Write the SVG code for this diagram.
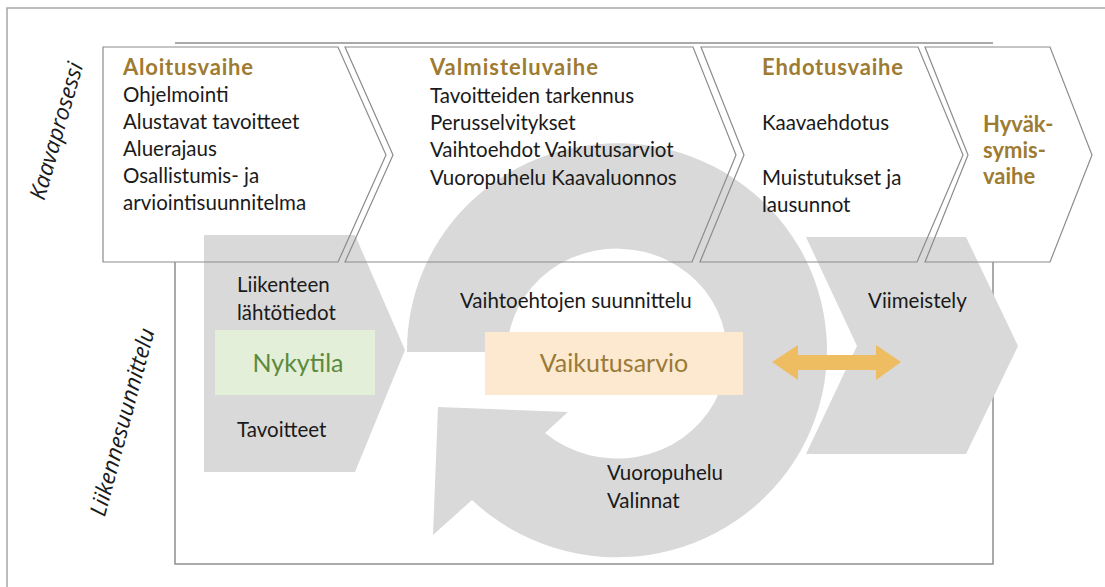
<svg xmlns="http://www.w3.org/2000/svg" width="1105" height="587" viewBox="0 0 1105 587">
<defs>
<style>
.frame{fill:none;stroke:#8f8f8f;stroke-width:1.5}
.outer{fill:none;stroke:#a6a6a6;stroke-width:1.5}
.chev{fill:none;stroke:#8c8c8c;stroke-width:1.2}
.gray{fill:#d9d9d9}
.t{font-family:Lato,"Liberation Sans",sans-serif;font-size:20.5px;fill:#1a1a1a}
.h{font-family:Lato,"Liberation Sans",sans-serif;font-size:22px;font-weight:bold;fill:#9e7b32}
.side{font-family:"Open Sans","Liberation Sans",sans-serif;font-style:italic;font-size:22.5px;fill:#1a1a1a}
.big{font-family:Lato,"Liberation Sans",sans-serif;font-size:25px}
</style>
</defs>
<rect width="1105" height="587" fill="#ffffff"/>
<g id="frames">
<path class="outer" d="M7,587 V8 H1105"/>
<path class="frame" d="M175,262 V564 H993 V262 M175,43 H993"/>
</g>
<g id="gray-process">
<polygon id="nykytila-arrow" class="gray" points="204,235 355,235 405,350 355,472 204,472"/>
<path id="cycle" class="gray" d="M407,352 A210,207 0 1 1 472,500 L433,535 L438,407 L568,412 L545,433 A110,105 0 1 0 507,352 Z"/>
<polygon id="viimeistely-arrow" class="gray" points="806,237 966,237 1018,346 966,454 806,454 857,346"/>
</g>
<g id="phase-aloitus">
<polygon class="chev" points="103,47 338,47 386,155 338,262 103,262"/>
<text class="h" x="123" y="75" textLength="130">Aloitusvaihe</text>
<text class="t" x="123" y="102">Ohjelmointi</text>
<text class="t" x="123" y="129">Alustavat tavoitteet</text>
<text class="t" x="123" y="156">Aluerajaus</text>
<text class="t" x="123" y="183">Osallistumis- ja</text>
<text class="t" x="123" y="210">arviointisuunnitelma</text>
</g>
<g id="phase-valmistelu">
<polygon class="chev" points="345,47 693,47 736,155 692,262 345,262 393,155"/>
<text class="h" x="430" y="75" textLength="168">Valmisteluvaihe</text>
<text class="t" x="430" y="103">Tavoitteiden tarkennus</text>
<text class="t" x="430" y="130">Perusselvitykset</text>
<text class="t" x="430" y="157">Vaihtoehdot Vaikutusarviot</text>
<text class="t" x="430" y="185">Vuoropuhelu Kaavaluonnos</text>
</g>
<g id="phase-ehdotus">
<polygon class="chev" points="701,47 918,47 963,155 917,262 700,262 744,155"/>
<text class="h" x="762" y="75" textLength="141">Ehdotusvaihe</text>
<text class="t" x="762" y="130">Kaavaehdotus</text>
<text class="t" x="762" y="185">Muistutukset ja</text>
<text class="t" x="762" y="212">lausunnot</text>
</g>
<g id="phase-hyvaksymis">
<polygon class="chev" points="925,47 1050,47 1092,155 1050,262 925,262 968,155"/>
<text class="h" x="983" y="132">Hyväk-</text>
<text class="h" x="983" y="158">symis-</text>
<text class="h" x="983" y="184">vaihe</text>
</g>
<g id="label-kaavaprosessi">
<text class="side" transform="translate(56,131) rotate(-74)" text-anchor="middle" y="8">Kaavaprosessi</text>
</g>
<g id="label-liikennesuunnittelu">
<text class="side" transform="translate(122,422) rotate(-75)" text-anchor="middle" y="8">Liikennesuunnittelu</text>
</g>
<g id="node-lahtotiedot">
<text class="t" x="237" y="292">Liikenteen</text>
<text class="t" x="237" y="320">lähtötiedot</text>
<text class="t" x="237" y="437">Tavoitteet</text>
</g>
<g id="node-nykytila">
<rect x="215" y="330" width="160" height="65" fill="#e3efd9"/>
<text class="big" x="298" y="372" text-anchor="middle" fill="#5b8a3c">Nykytila</text>
</g>
<g id="node-vaihtoehdot">
<text class="t" x="460" y="308">Vaihtoehtojen suunnittelu</text>
<text class="t" x="607" y="480">Vuoropuhelu</text>
<text class="t" x="607" y="508">Valinnat</text>
</g>
<g id="node-vaikutusarvio">
<rect x="485" y="332" width="258" height="63" fill="#fce9cf"/>
<text class="big" x="614" y="372" text-anchor="middle" fill="#9a7a38">Vaikutusarvio</text>
</g>
<g id="node-viimeistely">
<text class="t" x="868" y="308">Viimeistely</text>
</g>
<g id="connectors">
<polygon fill="#eebd62" points="772,362 798,345 798,355 876,355 876,345 901,362 876,380 876,370 798,370 798,380"/>
</g>
</svg>
